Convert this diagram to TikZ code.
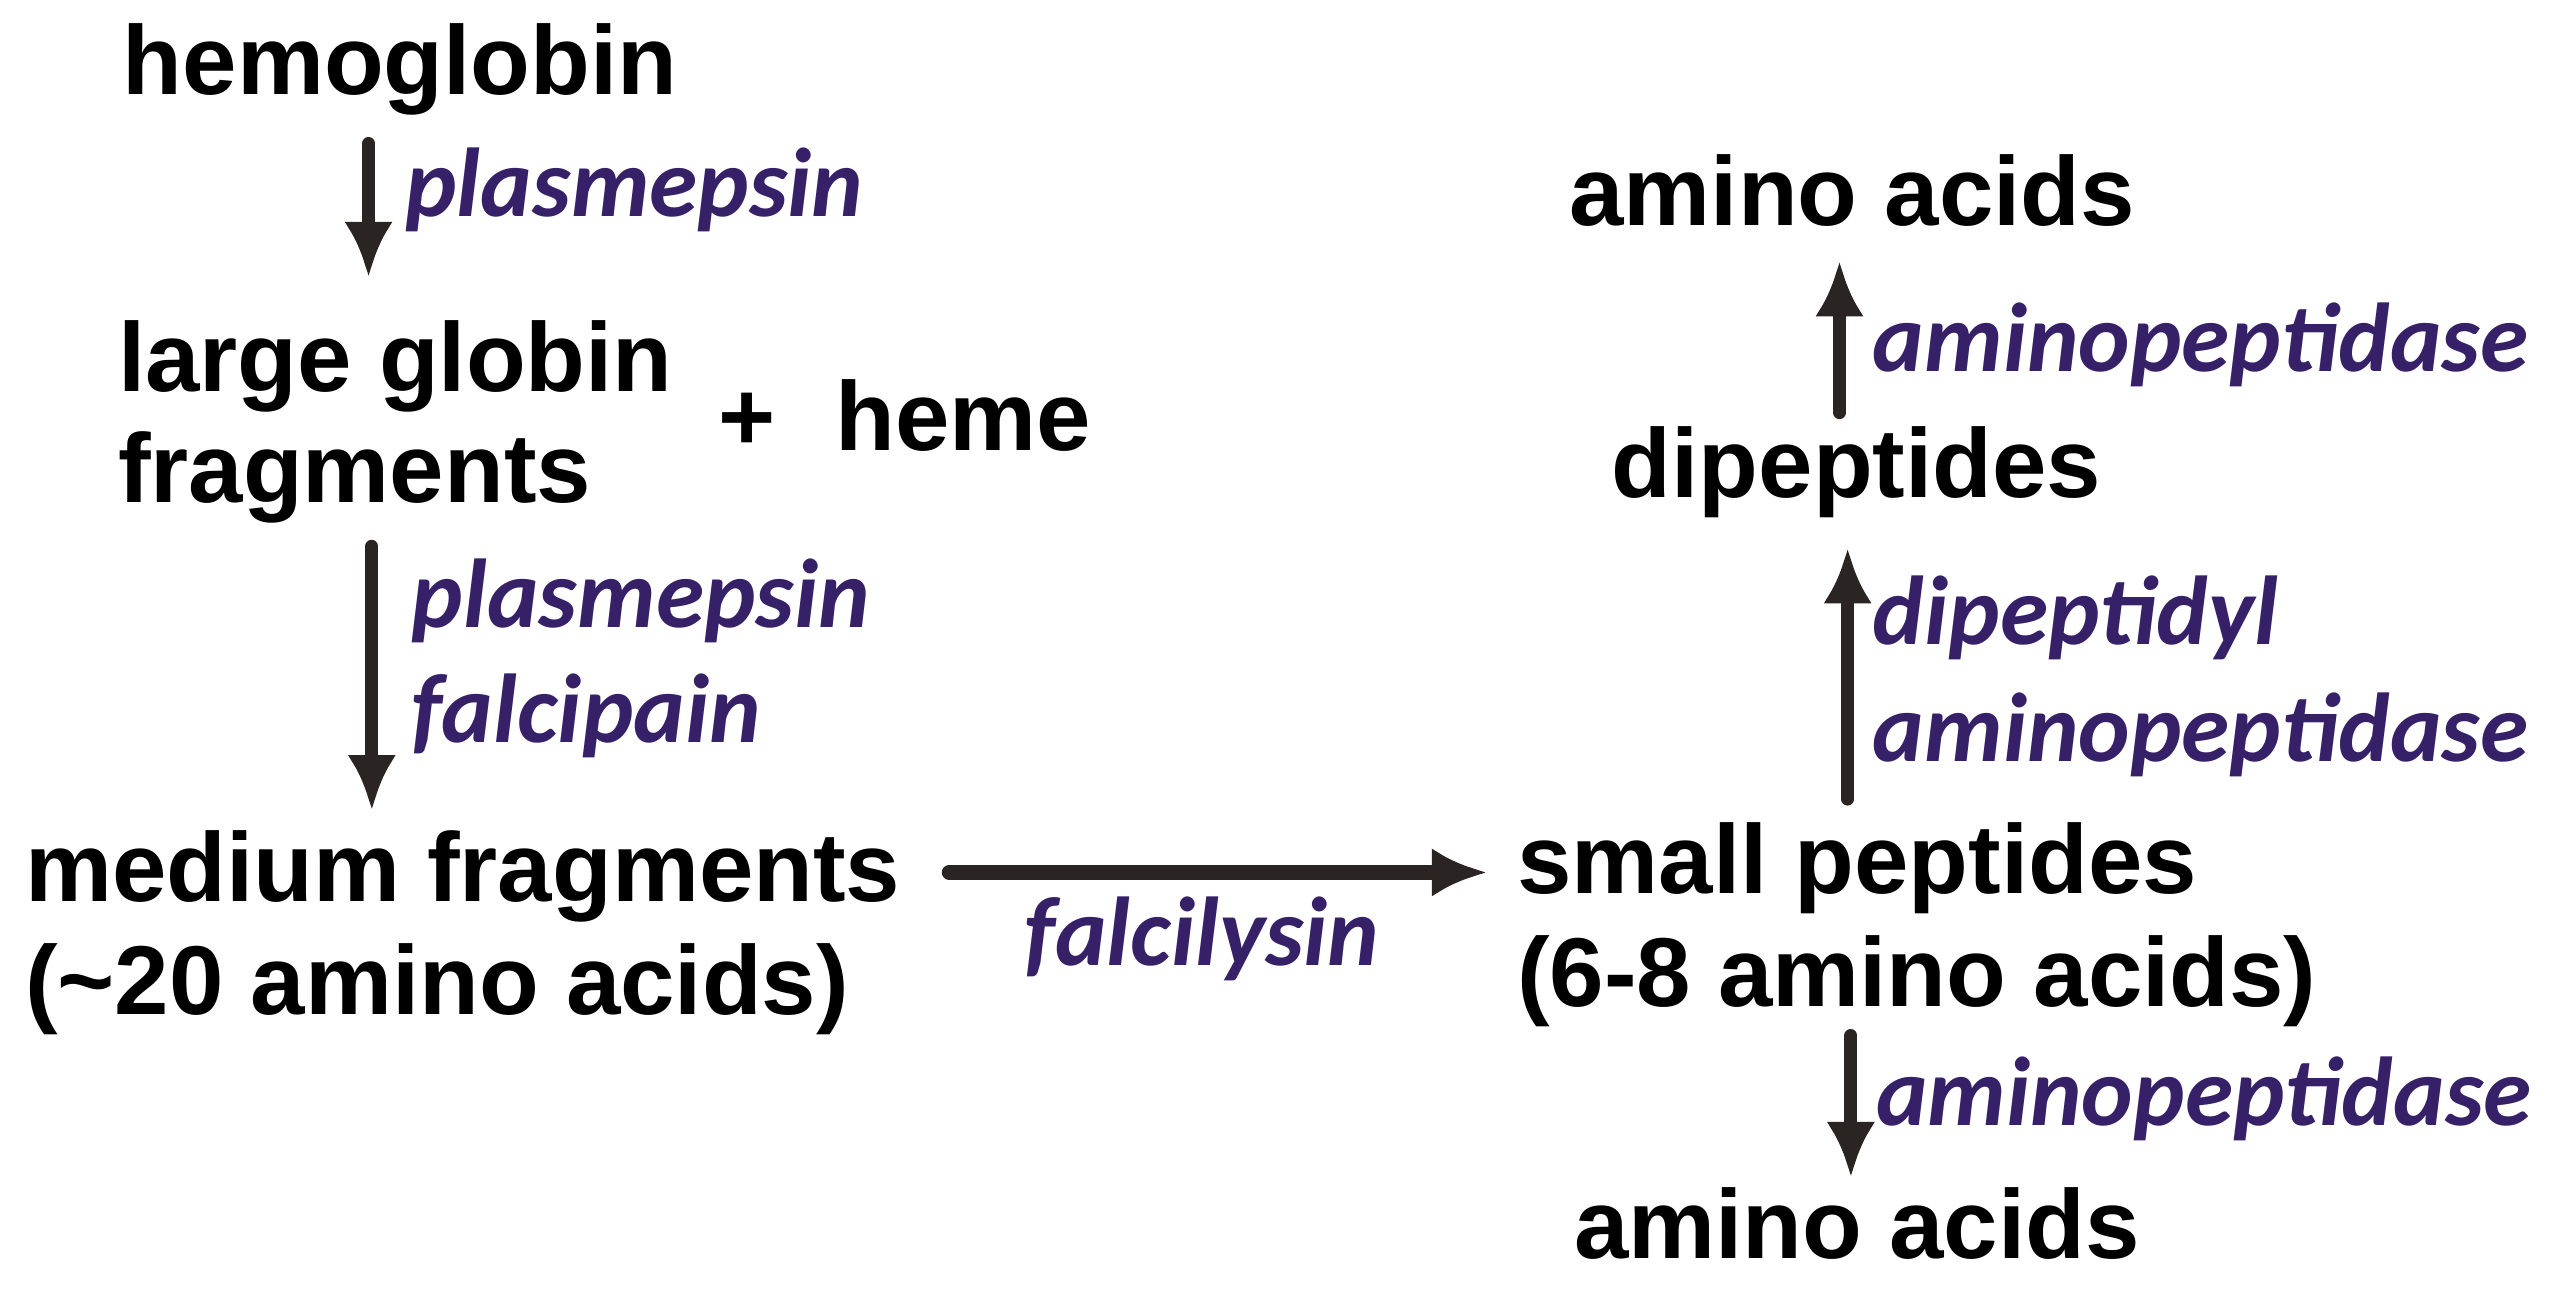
\documentclass[tikz,border=0pt]{standalone}
\usepackage{fontspec}
\setmainfont{Liberation Sans}
\newfontfamily\labfont{Carlito}
\usetikzlibrary{arrows.meta}
\definecolor{labc}{RGB}{54,33,104}
\definecolor{arrc}{RGB}{42,37,35}
\tikzset{
  term/.style={anchor=base west, inner sep=0pt, font=\fontsize{30}{35}\selectfont\bfseries, text=black},
  enz/.style={anchor=base west, inner sep=0pt, font=\fontsize{30}{35}\selectfont\labfont\bfseries\itshape, text=labc},
  arr/.style={draw=arrc, line width=4pt, line cap=round, -{Latex[length=17pt,width=15pt]}},
  harr/.style={arr, line width=4.5pt}
}
\begin{document}
\begin{tikzpicture}[x=0.5pt,y=-0.5pt]
\useasboundingbox (0,0) rectangle (1568,798);
% terms
\node[term] (hemo) at (75,58) {hemoglobin};
\node[term] (lg1) at (72,240) {large globin};
\node[term] (lg2) at (72,308) {fragments};
\node[term] (plus) at (440,276) {+};
\node[term] (heme) at (512,276) {heme};
\node[term] (med1) at (15,553) {medium fragments};
\node[term] (med2) at (15,622) {(\textasciitilde 20 amino acids)};
\node[term] (sp1) at (930,548) {small peptides};
\node[term] (sp2) at (930,617) {(6-8 amino acids)};
\node[term] (aab) at (965,772) {amino acids};
\node[term] (dip) at (988,305) {dipeptides};
\node[term] (aat) at (962,138) {amino acids};
% enzymes
\node[enz] (e1) at (248,133) {plasmepsin};
\node[enz] (e2) at (252,385) {plasmepsin};
\node[enz] (e3) at (252,455) {falcipain};
\node[enz] (e4) at (628,592) {falcilysin};
\node[enz] (e5) at (1150,690) {aminopeptidase};
\node[enz] (e6) at (1148,395) {dipeptidyl};
\node[enz] (e7) at (1148,467) {aminopeptidase};
\node[enz] (e8) at (1148,228) {aminopeptidase};
% arrows
\draw[arr] ([shift={(151,30)}]hemo.base west) -- ([shift={(154,-70)}]lg1.base west);
\draw[arr] ([shift={(156,27)}]lg2.base west) -- ([shift={(213,-56)}]med1.base west);
\draw[harr] ([shift={(567,-18)}]med1.base west) -- ([shift={(-18,-13)}]sp1.base west);
\draw[arr] ([shift={(205,18)}]sp2.base west) -- ([shift={(170,-50)}]aab.base west);
\draw[arr] ([shift={(203,-58)}]sp1.base west) -- ([shift={(145,31)}]dip.base west);
\draw[arr] ([shift={(140,-52)}]dip.base west) -- ([shift={(166,22)}]aat.base west);
\end{tikzpicture}
\end{document}
